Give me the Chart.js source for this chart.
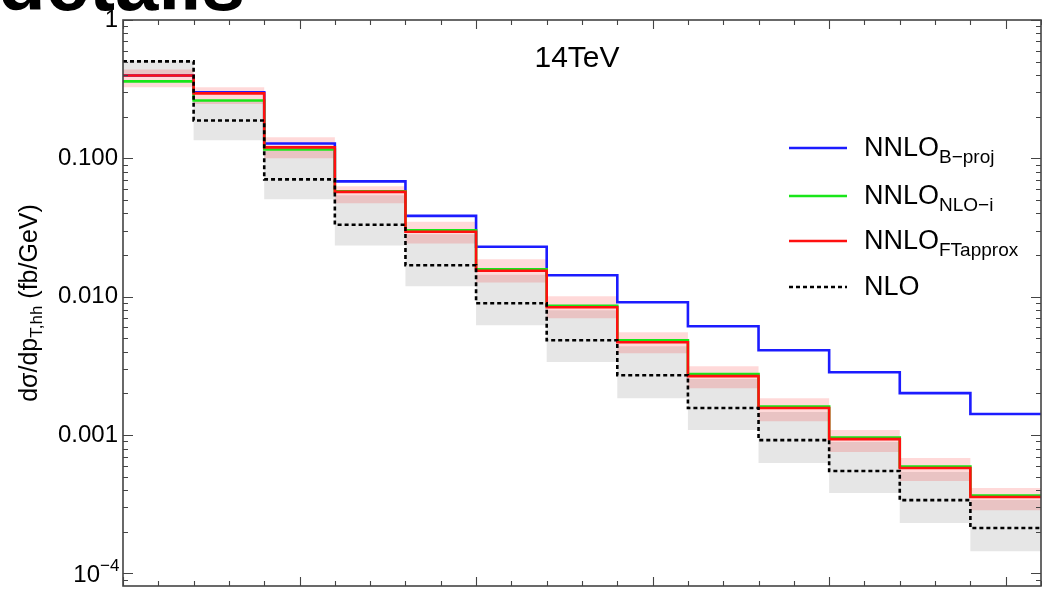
<!DOCTYPE html>
<html>
<head>
<meta charset="utf-8">
<script src="https://cdn.jsdelivr.net/npm/chart.js@4.4.0/dist/chart.umd.min.js"></script>
<style>
  html, body { margin: 0; padding: 0; background: #fff; }
</style>
</head>
<body>
<canvas id="chart" width="1042" height="590"></canvas>
<script>
// bin edges in p_T (GeV)
const binEdges = [0, 40, 80, 120, 160, 200, 240, 280, 320, 360, 400, 440, 480, 520];

// central values per bin
const nnloBproj = [0.397, 0.300, 0.128, 0.0682, 0.0384, 0.0230, 0.0143, 0.00913, 0.00612, 0.00411, 0.00285, 0.00201, 0.00142];
const nnloNLOi  = [0.360, 0.262, 0.116, 0.0578, 0.0302, 0.0158, 0.00861, 0.00485, 0.00276, 0.00161, 0.000959, 0.000592, 0.000366];
const nnloFT    = [0.397, 0.295, 0.120, 0.0573, 0.0295, 0.0154, 0.00840, 0.00469, 0.00267, 0.00157, 0.000935, 0.000578, 0.000357];
const nlo       = [0.502, 0.188, 0.0705, 0.0331, 0.0169, 0.00898, 0.00485, 0.00271, 0.00157, 0.000920, 0.000550, 0.000339, 0.000213];

// uncertainty bands
const ftHi  = [0.439, 0.326, 0.142, 0.0628, 0.0348, 0.0187, 0.0101, 0.00554, 0.00315, 0.00185, 0.00109, 0.000682, 0.000414];
const ftLo  = [0.326, 0.247, 0.100, 0.0473, 0.0243, 0.0127, 0.00699, 0.00391, 0.00218, 0.00126, 0.000754, 0.000466, 0.000287];
const nloHi = [0.510, 0.262, 0.114, 0.0541, 0.0283, 0.0144, 0.00799, 0.00439, 0.00254, 0.00147, 0.000890, 0.000541, 0.000339];
const nloLo = [0.391, 0.135, 0.0506, 0.0235, 0.0119, 0.00622, 0.00337, 0.00185, 0.00109, 0.000628, 0.000381, 0.000232, 0.000145];

// axis ticks (10^-4 gets its exponent drawn separately)
const yTickValues = [1e-4, 1e-3, 1e-2, 1e-1, 1];
const yTickLabels = ['10', '0.001', '0.010', '0.100', '1'];
const yTickExps   = ['\u22124', '', '', '', ''];
const xMajorTicks = [0, 100, 200, 300, 400, 500];

const legendItems = [
  { main: 'NNLO', sub: 'B\u2212proj',  color: '#1c1cff', dash: [] },
  { main: 'NNLO', sub: 'NLO\u2212i',   color: '#19e619', dash: [] },
  { main: 'NNLO', sub: 'FTapprox',     color: '#ff1010', dash: [] },
  { main: 'NLO',  sub: '',             color: '#000000', dash: [4, 3] }
];

const FONT = '"Liberation Sans", Arial, sans-serif';

function steps(arr) {
  return binEdges.map(function (x, i) {
    return { x: x, y: arr[Math.min(i, arr.length - 1)] };
  });
}

function lineSet(label, arr, color, order, dash) {
  return {
    label: label,
    data: steps(arr),
    borderColor: color,
    borderWidth: 2.6,
    borderDash: dash || [],
    stepped: 'before',
    pointRadius: 0,
    fill: false,
    order: order
  };
}

function bandSet(label, arr, fillTarget, color, order) {
  return {
    label: label,
    data: steps(arr),
    borderColor: 'transparent',
    borderWidth: 0,
    backgroundColor: color,
    stepped: 'before',
    pointRadius: 0,
    fill: fillTarget,
    order: order
  };
}

// frame with inward ticks, like the original plot
const framePlugin = {
  id: 'frame',
  afterDatasetsDraw: function (chart) {
    const ctx = chart.ctx;
    const a = chart.chartArea;
    const xs = chart.scales.x;
    const ys = chart.scales.y;
    ctx.save();
    ctx.strokeStyle = '#444';
    ctx.lineWidth = 1.6;
    ctx.strokeRect(a.left, a.top, a.right - a.left, a.bottom - a.top);
    ctx.lineWidth = 1.1;
    ctx.beginPath();
    for (let v = 0; v <= 520; v += 20) {
      const px = Math.round(xs.getPixelForValue(v)) + 0.5;
      const len = xMajorTicks.indexOf(v) >= 0 ? 9 : 5;
      ctx.moveTo(px, a.bottom); ctx.lineTo(px, a.bottom - len);
      ctx.moveTo(px, a.top); ctx.lineTo(px, a.top + len);
    }
    for (let e = -5; e <= 0; e++) {
      for (let m = 1; m <= 9; m++) {
        const v = m * Math.pow(10, e);
        if (v < ys.min || v > ys.max) continue;
        const py = Math.round(ys.getPixelForValue(v)) + 0.5;
        const len = m === 1 ? 10 : 5;
        ctx.moveTo(a.left, py); ctx.lineTo(a.left + len, py);
        ctx.moveTo(a.right, py); ctx.lineTo(a.right - len, py);
      }
    }
    ctx.stroke();
    ctx.restore();
  },
  afterDraw: function (chart) {
    const ctx = chart.ctx;
    const ys = chart.scales.y;
    ctx.save();
    ctx.fillStyle = '#000';
    ctx.textBaseline = 'alphabetic';

    // cut-off slide title at the very top
    ctx.font = 'bold 78px ' + FONT;
    ctx.textAlign = 'left';
    ctx.fillText('details', -2, 10);

    // exponent for the 10^-4 tick label
    yTickValues.forEach(function (v, i) {
      if (!yTickExps[i]) return;
      const py = ys.getPixelForValue(v);
      ctx.font = '24px ' + FONT;
      ctx.textAlign = 'right';
      ctx.fillText(yTickLabels[i], 100, py + 9);
      ctx.font = '17px ' + FONT;
      ctx.textAlign = 'left';
      ctx.fillText(yTickExps[i], 100, py - 2);
    });

    // energy label
    ctx.font = '30px ' + FONT;
    ctx.textAlign = 'center';
    ctx.fillText('14TeV', 577, 67);

    // legend
    ctx.textAlign = 'left';
    const rowY = [148, 196, 241, 287];
    legendItems.forEach(function (it, i) {
      const y = rowY[i];
      ctx.beginPath();
      ctx.strokeStyle = it.color;
      ctx.lineWidth = 2.6;
      ctx.setLineDash(it.dash);
      ctx.moveTo(789, y); ctx.lineTo(847, y);
      ctx.stroke();
      ctx.setLineDash([]);
      ctx.font = '27px ' + FONT;
      ctx.fillText(it.main, 864, y + 8);
      const w = ctx.measureText(it.main).width;
      if (it.sub) {
        ctx.font = '19px ' + FONT;
        ctx.fillText(it.sub, 864 + w, y + 15);
      }
    });

    // y axis title with subscript
    ctx.translate(37, 303);
    ctx.rotate(-Math.PI / 2);
    const p1 = 'd\u03C3/dp', p2 = 'T,hh', p3 = ' (fb/GeV)';
    ctx.font = '25px ' + FONT;
    const w1 = ctx.measureText(p1).width, w3 = ctx.measureText(p3).width;
    ctx.font = '17px ' + FONT;
    const w2 = ctx.measureText(p2).width;
    let x0 = -(w1 + w2 + w3) / 2;
    ctx.font = '25px ' + FONT;
    ctx.fillText(p1, x0, 0);
    ctx.font = '17px ' + FONT;
    ctx.fillText(p2, x0 + w1, 5);
    ctx.font = '25px ' + FONT;
    ctx.fillText(p3, x0 + w1 + w2, 0);
    ctx.restore();
  }
};

new Chart(document.getElementById('chart'), {
  type: 'line',
  data: {
    datasets: [
      lineSet('NLO', nlo, '#000000', 0, [4, 3]),
      lineSet('NNLO FTapprox', nnloFT, '#ff1010', 1),
      lineSet('NNLO NLO-i', nnloNLOi, '#19e619', 2),
      lineSet('NNLO B-proj', nnloBproj, '#1c1cff', 3),
      bandSet('FT band hi', ftHi, 5, 'rgba(255,0,0,0.15)', 4),
      bandSet('FT band lo', ftLo, false, 'transparent', 5),
      bandSet('NLO band hi', nloHi, 7, '#e6e6e6', 6),
      bandSet('NLO band lo', nloLo, false, 'transparent', 7)
    ]
  },
  options: {
    responsive: false,
    animation: false,
    layout: { padding: { top: 20, right: 1, bottom: 4, left: 0 } },
    plugins: {
      legend: { display: false },
      tooltip: { enabled: false }
    },
    scales: {
      x: {
        type: 'linear',
        min: 0,
        max: 520,
        display: false
      },
      y: {
        type: 'logarithmic',
        min: 8.12e-5,
        max: 1,
        grid: { display: false, drawTicks: false },
        border: { display: false },
        afterBuildTicks: function (s) {
          s.ticks = yTickValues.map(function (v) { return { value: v }; });
        },
        afterFit: function (s) {
          s.width = 123;
          s.paddingTop = 0;
          s.paddingBottom = 0;
        },
        ticks: {
          autoSkip: false,
          padding: 5,
          color: '#000',
          font: { family: FONT, size: 24 },
          callback: function (v, i) { return yTickExps[i] ? '' : yTickLabels[i]; }
        }
      }
    }
  },
  plugins: [framePlugin]
});
</script>
</body>
</html>
